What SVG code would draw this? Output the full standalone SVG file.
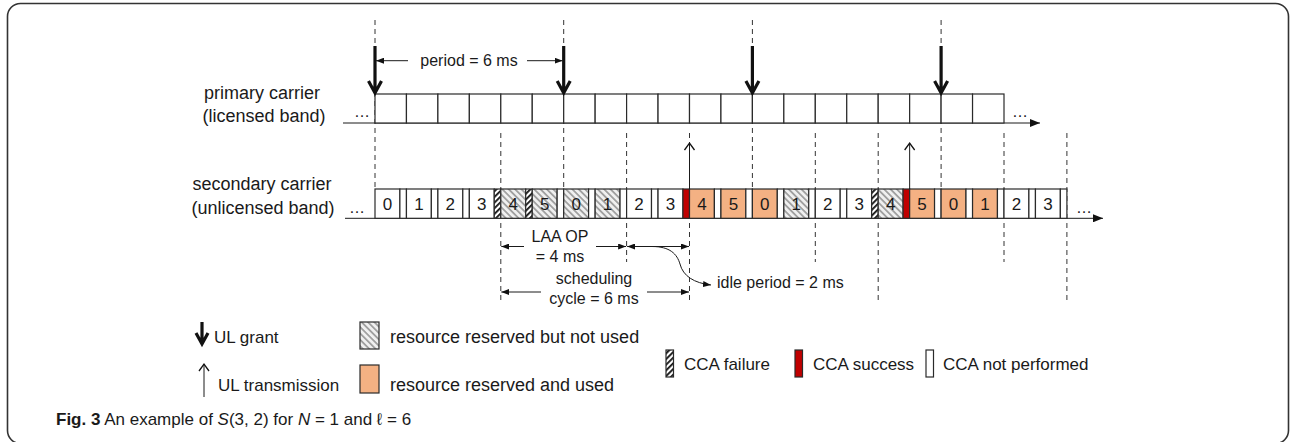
<svg xmlns="http://www.w3.org/2000/svg" width="1291" height="442" viewBox="0 0 1291 442">
<defs>
<style>
text{font-family:"Liberation Sans",Arial,sans-serif;fill:#1a1a1a}
.lbl{font-size:18px;text-anchor:middle}
.ann{font-size:16px}
.num{font-size:17px;text-anchor:middle}
.leg{font-size:17px}
.leg2{font-size:18px}
.cap{font-size:17px}
.box{stroke:#2a2a2a;stroke-width:1.2}
.w{fill:#fff}
.h{fill:url(#grey)}
.o{fill:#f4b183}
.f{fill:url(#fail)}
.r{fill:#c00000}
.dash{stroke:#333;stroke-width:1;stroke-dasharray:5 4;fill:none}
.thin{stroke:#1a1a1a;stroke-width:1;fill:none}
.grant{stroke:#111;stroke-width:3.2;fill:none;stroke-linejoin:miter}
</style>
<pattern id="grey" patternUnits="userSpaceOnUse" width="4.5" height="4.5" patternTransform="rotate(-45)">
<rect width="4.5" height="4.5" fill="#f0f0f0"/>
<rect width="1.8" height="4.5" fill="#a0a0a0"/>
</pattern>
<pattern id="fail" patternUnits="userSpaceOnUse" width="4" height="4" patternTransform="rotate(45)">
<rect width="4" height="4" fill="#fff"/>
<rect width="1.8" height="4" fill="#111"/>
</pattern>
<marker id="tri" viewBox="0 0 8 6" refX="8" refY="3" markerWidth="8" markerHeight="6" markerUnits="userSpaceOnUse" orient="auto-start-reverse">
<path d="M0,0 L8,3 L0,6 z" fill="#111"/>
</marker>
<marker id="axis" viewBox="0 0 10 8" refX="10" refY="4" markerWidth="10" markerHeight="8" markerUnits="userSpaceOnUse" orient="auto">
<path d="M0,0 L10,4 L0,8 z" fill="#111"/>
</marker>
<marker id="open" viewBox="0 0 12 12" refX="10" refY="6" markerWidth="12" markerHeight="12" markerUnits="userSpaceOnUse" orient="auto">
<path d="M3,1 L10,6 L3,11" fill="none" stroke="#111" stroke-width="1.3"/>
</marker>
</defs>

<rect id="frame" x="7.5" y="3.5" width="1281" height="440" rx="13" fill="#fff" stroke="#333" stroke-width="1.6"/>

<g id="guides">
<line class="dash" x1="375" y1="20" x2="375" y2="189"/>
<line class="dash" x1="563.7" y1="20" x2="563.7" y2="189"/>
<line class="dash" x1="752.4" y1="20" x2="752.4" y2="189"/>
<line class="dash" x1="941.1" y1="20" x2="941.1" y2="189"/>
<line class="dash" x1="500.8" y1="133" x2="500.8" y2="303"/>
<line class="dash" x1="626.6" y1="133" x2="626.6" y2="262"/>
<line class="dash" x1="689.5" y1="133" x2="689.5" y2="303"/>
<line class="dash" x1="815.3" y1="133" x2="815.3" y2="262"/>
<line class="dash" x1="878.2" y1="133" x2="878.2" y2="303"/>
<line class="dash" x1="1004" y1="133" x2="1004" y2="262"/>
<line class="dash" x1="1066.9" y1="133" x2="1066.9" y2="303"/>
</g>

<g id="primary-label">
<text class="lbl" x="262" y="99">primary carrier</text>
<text class="lbl" x="264" y="122">(licensed band)</text>
</g>
<g id="secondary-label">
<text class="lbl" x="262" y="190">secondary carrier</text>
<text class="lbl" x="263" y="214">(unlicensed band)</text>
</g>

<g id="primary-carrier">
<line class="thin" x1="343" y1="123" x2="1040" y2="123" marker-end="url(#axis)"/>
<text class="ann" x="362" y="117" text-anchor="middle">…</text>
<text class="ann" x="1020" y="117" text-anchor="middle">…</text>
<g class="box w">
<rect x="375" y="94" width="31.45" height="29"/>
<rect x="406.45" y="94" width="31.45" height="29"/>
<rect x="437.9" y="94" width="31.45" height="29"/>
<rect x="469.35" y="94" width="31.45" height="29"/>
<rect x="500.8" y="94" width="31.45" height="29"/>
<rect x="532.25" y="94" width="31.45" height="29"/>
<rect x="563.7" y="94" width="31.45" height="29"/>
<rect x="595.15" y="94" width="31.45" height="29"/>
<rect x="626.6" y="94" width="31.45" height="29"/>
<rect x="658.05" y="94" width="31.45" height="29"/>
<rect x="689.5" y="94" width="31.45" height="29"/>
<rect x="720.95" y="94" width="31.45" height="29"/>
<rect x="752.4" y="94" width="31.45" height="29"/>
<rect x="783.85" y="94" width="31.45" height="29"/>
<rect x="815.3" y="94" width="31.45" height="29"/>
<rect x="846.75" y="94" width="31.45" height="29"/>
<rect x="878.2" y="94" width="31.45" height="29"/>
<rect x="909.65" y="94" width="31.45" height="29"/>
<rect x="941.1" y="94" width="31.45" height="29"/>
<rect x="972.55" y="94" width="31.45" height="29"/>
</g>
</g>

<g id="secondary-carrier">
<line class="thin" x1="345" y1="218.3" x2="1103" y2="218.3" marker-end="url(#axis)"/>
<text class="ann" x="357" y="213" text-anchor="middle">…</text>
<text class="ann" x="1084" y="213" text-anchor="middle">…</text>
<g id="s0"><rect class="box w" x="375" y="189" width="24.9" height="29.3"/><rect class="box w" x="399.9" y="189" width="6.55" height="29.3"/><text class="num" x="387.45" y="210">0</text></g>
<g id="s1"><rect class="box w" x="406.45" y="189" width="24.9" height="29.3"/><rect class="box w" x="431.35" y="189" width="6.55" height="29.3"/><text class="num" x="418.9" y="210">1</text></g>
<g id="s2"><rect class="box w" x="437.9" y="189" width="24.9" height="29.3"/><rect class="box w" x="462.8" y="189" width="6.55" height="29.3"/><text class="num" x="450.35" y="210">2</text></g>
<g id="s3"><rect class="box w" x="469.35" y="189" width="24.9" height="29.3"/><rect class="box f" x="494.25" y="189" width="6.55" height="29.3"/><text class="num" x="481.8" y="210">3</text></g>
<g id="s4"><rect class="box h" x="500.8" y="189" width="24.9" height="29.3"/><rect class="box f" x="525.7" y="189" width="6.55" height="29.3"/><text class="num" x="513.25" y="210">4</text></g>
<g id="s5"><rect class="box h" x="532.25" y="189" width="24.9" height="29.3"/><rect class="box w" x="557.15" y="189" width="6.55" height="29.3"/><text class="num" x="544.7" y="210">5</text></g>
<g id="s6"><rect class="box h" x="563.7" y="189" width="24.9" height="29.3"/><rect class="box w" x="588.6" y="189" width="6.55" height="29.3"/><text class="num" x="576.15" y="210">0</text></g>
<g id="s7"><rect class="box h" x="595.15" y="189" width="24.9" height="29.3"/><rect class="box w" x="620.05" y="189" width="6.55" height="29.3"/><text class="num" x="607.6" y="210">1</text></g>
<g id="s8"><rect class="box w" x="626.6" y="189" width="24.9" height="29.3"/><rect class="box w" x="651.5" y="189" width="6.55" height="29.3"/><text class="num" x="639.05" y="210">2</text></g>
<g id="s9"><rect class="box w" x="658.05" y="189" width="24.9" height="29.3"/><rect class="box r" x="682.95" y="189" width="6.55" height="29.3"/><text class="num" x="670.5" y="210">3</text></g>
<g id="s10"><rect class="box o" x="689.5" y="189" width="24.9" height="29.3"/><rect class="box w" x="714.4" y="189" width="6.55" height="29.3"/><text class="num" x="701.95" y="210">4</text></g>
<g id="s11"><rect class="box o" x="720.95" y="189" width="24.9" height="29.3"/><rect class="box w" x="745.85" y="189" width="6.55" height="29.3"/><text class="num" x="733.4" y="210">5</text></g>
<g id="s12"><rect class="box o" x="752.4" y="189" width="24.9" height="29.3"/><rect class="box w" x="777.3" y="189" width="6.55" height="29.3"/><text class="num" x="764.85" y="210">0</text></g>
<g id="s13"><rect class="box h" x="783.85" y="189" width="24.9" height="29.3"/><rect class="box w" x="808.75" y="189" width="6.55" height="29.3"/><text class="num" x="796.3" y="210">1</text></g>
<g id="s14"><rect class="box w" x="815.3" y="189" width="24.9" height="29.3"/><rect class="box w" x="840.2" y="189" width="6.55" height="29.3"/><text class="num" x="827.75" y="210">2</text></g>
<g id="s15"><rect class="box w" x="846.75" y="189" width="24.9" height="29.3"/><rect class="box f" x="871.65" y="189" width="6.55" height="29.3"/><text class="num" x="859.2" y="210">3</text></g>
<g id="s16"><rect class="box h" x="878.2" y="189" width="24.9" height="29.3"/><rect class="box r" x="903.1" y="189" width="6.55" height="29.3"/><text class="num" x="890.65" y="210">4</text></g>
<g id="s17"><rect class="box o" x="909.65" y="189" width="24.9" height="29.3"/><rect class="box w" x="934.55" y="189" width="6.55" height="29.3"/><text class="num" x="922.1" y="210">5</text></g>
<g id="s18"><rect class="box o" x="941.1" y="189" width="24.9" height="29.3"/><rect class="box w" x="966" y="189" width="6.55" height="29.3"/><text class="num" x="953.55" y="210">0</text></g>
<g id="s19"><rect class="box o" x="972.55" y="189" width="24.9" height="29.3"/><rect class="box w" x="997.45" y="189" width="6.55" height="29.3"/><text class="num" x="985" y="210">1</text></g>
<g id="s20"><rect class="box w" x="1004" y="189" width="24.9" height="29.3"/><rect class="box w" x="1028.9" y="189" width="6.55" height="29.3"/><text class="num" x="1016.45" y="210">2</text></g>
<g id="s21"><rect class="box w" x="1035.45" y="189" width="24.9" height="29.3"/><rect class="box w" x="1060.35" y="189" width="6.55" height="29.3"/><text class="num" x="1047.9" y="210">3</text></g>
</g>

<g id="connectors">
<path class="grant" d="M375,46 V92 M368.5,81 L375,93 L381.5,81"/>
<path class="grant" d="M563.7,46 V92 M557.2,81 L563.7,93 L570.2,81"/>
<path class="grant" d="M752.4,46 V92 M745.9,81 L752.4,93 L758.9,81"/>
<path class="grant" d="M941.1,46 V92 M934.6,81 L941.1,93 L947.6,81"/>
<line class="thin" x1="689.5" y1="189" x2="689.5" y2="143" marker-end="url(#open)"/>
<line class="thin" x1="909.65" y1="189" x2="909.65" y2="143" marker-end="url(#open)"/>
<line class="thin" x1="408" y1="60.7" x2="376" y2="60.7" marker-end="url(#tri)"/>
<line class="thin" x1="527" y1="60.7" x2="562.7" y2="60.7" marker-end="url(#tri)"/>
<line class="thin" x1="524" y1="246.5" x2="501.3" y2="246.5" marker-end="url(#tri)"/>
<line class="thin" x1="596" y1="246.5" x2="626.1" y2="246.5" marker-end="url(#tri)"/>
<line class="thin" x1="627.1" y1="246.5" x2="689" y2="246.5" marker-start="url(#tri)" marker-end="url(#tri)"/>
<line class="thin" x1="541" y1="292" x2="501.3" y2="292" marker-end="url(#tri)"/>
<line class="thin" x1="647" y1="292" x2="689" y2="292" marker-end="url(#tri)"/>
<path class="thin" d="M652,246.5 C670,246.5 677,254 680,264 C683,276 694,283 711,285" stroke-width="0.9" marker-end="url(#tri)"/>
</g>

<g id="annotations">
<text class="ann" x="469" y="66" text-anchor="middle">period = 6 ms</text>
<text class="ann" x="560" y="242" text-anchor="middle">LAA OP</text>
<text class="ann" x="560" y="262" text-anchor="middle">= 4 ms</text>
<text class="ann" x="594" y="284" text-anchor="middle">scheduling</text>
<text class="ann" x="594" y="304" text-anchor="middle">cycle = 6 ms</text>
<text class="ann" x="717" y="288">idle period = 2 ms</text>
</g>

<g id="legend-ul-grant">
<path class="grant" d="M202,322 V342 M196,333 L202,344 L208,333"/>
<text class="leg" x="214" y="343">UL grant</text>
</g>
<g id="legend-ul-transmission">
<line class="thin" x1="204" y1="397" x2="204" y2="364" marker-end="url(#open)" stroke-width="1.3"/>
<text class="leg" x="218" y="391">UL transmission</text>
</g>
<g id="legend-not-used">
<rect class="box h" x="360" y="322" width="19" height="27"/>
<text class="leg2" x="390" y="343">resource reserved but not used</text>
</g>
<g id="legend-used">
<rect class="box o" x="360" y="365" width="19" height="28"/>
<text class="leg2" x="390" y="391">resource reserved and used</text>
</g>
<g id="legend-cca-failure">
<rect class="box f" x="666" y="350" width="7.5" height="27"/>
<text class="leg" x="684" y="370">CCA failure</text>
</g>
<g id="legend-cca-success">
<rect class="box r" x="795" y="350" width="7.5" height="27"/>
<text class="leg" x="813" y="370">CCA success</text>
</g>
<g id="legend-cca-not">
<rect class="box w" x="926" y="350" width="7.5" height="27"/>
<text class="leg" x="943" y="370">CCA not performed</text>
</g>

<g id="caption">
<text class="cap" x="56" y="425"><tspan font-weight="bold">Fig. 3</tspan> An example of <tspan font-style="italic">S</tspan>(3, 2) for <tspan font-style="italic">N</tspan> = 1 and ℓ = 6</text>
</g>
</svg>
